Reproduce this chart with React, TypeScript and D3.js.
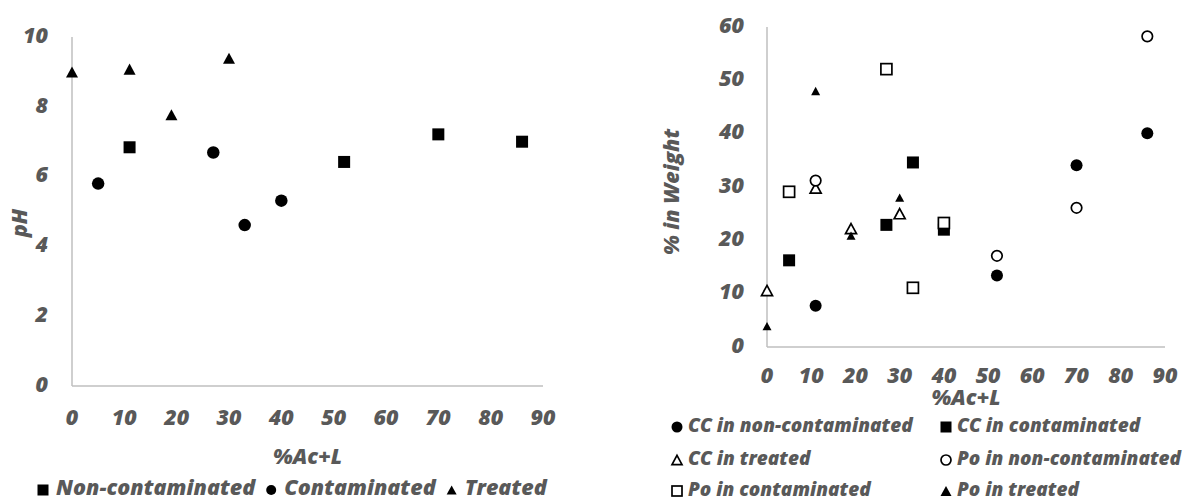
import { useEffect, useRef } from 'react';
import * as d3 from 'd3';

// ---- Left chart: pH vs %Ac+L ----
const PH_NONCONT_X = [11, 52, 70, 86];
const PH_NONCONT_Y = [6.84, 6.42, 7.21, 7.0];
const PH_CONT_X = [5, 27, 33, 40];
const PH_CONT_Y = [5.8, 6.69, 4.61, 5.31];
const PH_TREATED_X = [0, 11, 19, 30];
const PH_TREATED_Y = [9.0, 9.08, 7.77, 9.39];

const PH_Y_TICKS = [0, 2, 4, 6, 8, 10];
const X_TICKS = [0, 10, 20, 30, 40, 50, 60, 70, 80, 90];

// ---- Right chart: % in Weight vs %Ac+L ----
const CC_NONCONT_X = [11, 52, 70, 86];
const CC_NONCONT_Y = [7.75, 13.4, 34.1, 40.1];
const CC_CONT_X = [5, 27, 33, 40];
const CC_CONT_Y = [16.25, 22.9, 34.6, 22.0];
const CC_TREATED_X = [0, 11, 19, 30];
const CC_TREATED_Y = [10.6, 29.8, 22.2, 25.0];
const PO_NONCONT_X = [11, 52, 70, 86];
const PO_NONCONT_Y = [31.2, 17.1, 26.1, 58.25];
const PO_CONT_X = [5, 27, 33, 40];
const PO_CONT_Y = [29.1, 52.1, 11.1, 23.25];
const PO_TREATED_X = [0, 11, 19, 30];
const PO_TREATED_Y = [3.9, 48.0, 20.9, 28.0];

const W_Y_TICKS = [0, 10, 20, 30, 40, 50, 60];

const TEXT = '#595959';
const AXIS = '#bfbfbf';
const FONT = '"Open Sans", Lato, sans-serif';
const TICK_SIZE = 21.5;

type Shape = 'square' | 'circle' | 'triangle';

interface MarkerStyle {
  shape: Shape;
  size: number;
  filled: boolean;
}

/** Draw a marker centred on (x, y); triangles are centred on their bbox like Excel */
function drawMarker(g: any, x: number, y: number, m: MarkerStyle) {
  const fill = m.filled ? '#000000' : '#ffffff';
  const stroke = m.filled ? 'none' : '#000000';
  const sw = m.filled ? 0 : 1.7;
  const s = m.size;
  if (m.shape === 'square') {
    g.append('rect')
      .attr('x', x - s / 2)
      .attr('y', y - s / 2)
      .attr('width', s)
      .attr('height', s)
      .attr('fill', fill)
      .attr('stroke', stroke)
      .attr('stroke-width', sw);
  } else if (m.shape === 'circle') {
    g.append('circle')
      .attr('cx', x)
      .attr('cy', y)
      .attr('r', s / 2)
      .attr('fill', fill)
      .attr('stroke', stroke)
      .attr('stroke-width', sw);
  } else {
    const h = s * 0.92;
    g.append('path')
      .attr('d', `M${x},${y - h / 2}L${x + s / 2},${y + h / 2}L${x - s / 2},${y + h / 2}Z`)
      .attr('fill', fill)
      .attr('stroke', stroke)
      .attr('stroke-width', sw)
      .attr('stroke-linejoin', 'miter');
  }
}

function styledText(g: any, size: number) {
  return g
    .append('text')
    .attr('font-family', FONT)
    .attr('font-size', `${size}px`)
    .attr('font-weight', 800)
    .attr('font-style', 'italic')
    .attr('fill', TEXT);
}

// baseline offset that puts the cap/digit height centred on y
const mid = (size: number) => size * 0.36;

export default function App() {
  const svgRef = useRef<SVGSVGElement>(null);

  useEffect(() => {
    document.body.style.margin = '0';
    if (!svgRef.current) return;
    const svg = d3.select(svgRef.current);
    svg.selectAll('*').remove();

    // ================= Left chart =================
    {
      const g = svg.append('g');
      const x = d3.scaleLinear().domain([0, 90]).range([72, 543]);
      const y = d3.scaleLinear().domain([0, 10]).range([386, 37]);

      g.append('line')
        .attr('x1', x(0)).attr('x2', x(0))
        .attr('y1', y(10)).attr('y2', y(0))
        .attr('stroke', AXIS).attr('stroke-width', 1.5);
      g.append('line')
        .attr('x1', x(0)).attr('x2', x(90))
        .attr('y1', y(0)).attr('y2', y(0))
        .attr('stroke', AXIS).attr('stroke-width', 1.5);

      PH_Y_TICKS.forEach(t => {
        styledText(g, TICK_SIZE)
          .attr('x', 48)
          .attr('y', y(t) - 2 + mid(TICK_SIZE))
          .attr('text-anchor', 'end')
          .text(t);
      });
      X_TICKS.forEach(t => {
        styledText(g, TICK_SIZE)
          .attr('x', x(t))
          .attr('y', 417 + mid(TICK_SIZE))
          .attr('text-anchor', 'middle')
          .text(t);
      });
      styledText(g, TICK_SIZE)
        .attr('x', (x(0) + x(90)) / 2)
        .attr('y', 456 + mid(TICK_SIZE))
        .attr('text-anchor', 'middle')
        .text('%Ac+L');
      styledText(g, TICK_SIZE)
        .attr('transform', `translate(${19 + mid(TICK_SIZE)}, 223) rotate(-90)`)
        .attr('text-anchor', 'middle')
        .text('pH');

      const series: { xs: number[]; ys: number[]; m: MarkerStyle; label: string }[] = [
        { xs: PH_NONCONT_X, ys: PH_NONCONT_Y, m: { shape: 'square', size: 12, filled: true }, label: 'Non-contaminated' },
        { xs: PH_CONT_X, ys: PH_CONT_Y, m: { shape: 'circle', size: 12.5, filled: true }, label: 'Contaminated' },
        { xs: PH_TREATED_X, ys: PH_TREATED_Y, m: { shape: 'triangle', size: 12, filled: true }, label: 'Treated' },
      ];
      series.forEach(s => {
        s.xs.forEach((xv, i) => drawMarker(g, x(xv), y(s.ys[i]), s.m));
      });

      // Legend, chained by measured text width
      let lx = 43;
      series.forEach(s => {
        drawMarker(g, lx, 490, { ...s.m, size: s.m.shape === 'square' ? 11 : 10 });
        const t = styledText(g, 21.5)
          .attr('x', lx + 13)
          .attr('y', 495)
          .text(s.label);
        const w = (t.node() as SVGTextElement).getComputedTextLength();
        lx += 13 + w + 16;
      });
    }

    // ================= Right chart =================
    {
      const g = svg.append('g');
      const x = d3.scaleLinear().domain([0, 90]).range([767, 1165]);
      const y = d3.scaleLinear().domain([0, 60]).range([347, 27]);

      g.append('line')
        .attr('x1', x(0)).attr('x2', x(0))
        .attr('y1', y(60)).attr('y2', y(0))
        .attr('stroke', AXIS).attr('stroke-width', 1.5);
      g.append('line')
        .attr('x1', x(0)).attr('x2', x(90))
        .attr('y1', y(0)).attr('y2', y(0))
        .attr('stroke', AXIS).attr('stroke-width', 1.5);

      W_Y_TICKS.forEach(t => {
        styledText(g, TICK_SIZE)
          .attr('x', 744)
          .attr('y', y(t) - 2 + mid(TICK_SIZE))
          .attr('text-anchor', 'end')
          .text(t);
      });
      X_TICKS.forEach(t => {
        styledText(g, TICK_SIZE)
          .attr('x', x(t))
          .attr('y', 375 + mid(TICK_SIZE))
          .attr('text-anchor', 'middle')
          .text(t);
      });
      styledText(g, TICK_SIZE)
        .attr('x', (x(0) + x(90)) / 2)
        .attr('y', 397 + mid(TICK_SIZE))
        .attr('text-anchor', 'middle')
        .text('%Ac+L');
      styledText(g, TICK_SIZE)
        .attr('transform', `translate(${671 + mid(TICK_SIZE)}, 192) rotate(-90)`)
        .attr('text-anchor', 'middle')
        .text('% in Weight');

      const series: { xs: number[]; ys: number[]; m: MarkerStyle; label: string }[] = [
        { xs: CC_NONCONT_X, ys: CC_NONCONT_Y, m: { shape: 'circle', size: 12, filled: true }, label: 'CC in non-contaminated' },
        { xs: CC_CONT_X, ys: CC_CONT_Y, m: { shape: 'square', size: 12, filled: true }, label: 'CC in contaminated' },
        { xs: CC_TREATED_X, ys: CC_TREATED_Y, m: { shape: 'triangle', size: 11, filled: false }, label: 'CC in treated' },
        { xs: PO_NONCONT_X, ys: PO_NONCONT_Y, m: { shape: 'circle', size: 10.5, filled: false }, label: 'Po in non-contaminated' },
        { xs: PO_CONT_X, ys: PO_CONT_Y, m: { shape: 'square', size: 11, filled: false }, label: 'Po in contaminated' },
        { xs: PO_TREATED_X, ys: PO_TREATED_Y, m: { shape: 'triangle', size: 9, filled: true }, label: 'Po in treated' },
      ];
      series.forEach(s => {
        s.xs.forEach((xv, i) => drawMarker(g, x(xv), y(s.ys[i]), s.m));
      });

      const colX = [677, 946];
      const rowBase = [432, 465, 496];
      series.forEach((s, i) => {
        const cx = colX[i % 2];
        const by = rowBase[Math.floor(i / 2)];
        drawMarker(g, cx, by - 5, { ...s.m, size: s.m.filled ? 11 : 10 });
        styledText(g, 19)
          .attr('x', cx + 11)
          .attr('y', by)
          .text(s.label);
      });
    }
  }, []);

  return (
    <svg
      ref={svgRef}
      width={1191}
      height={500}
      style={{ display: 'block', background: '#ffffff' }}
    />
  );
}
